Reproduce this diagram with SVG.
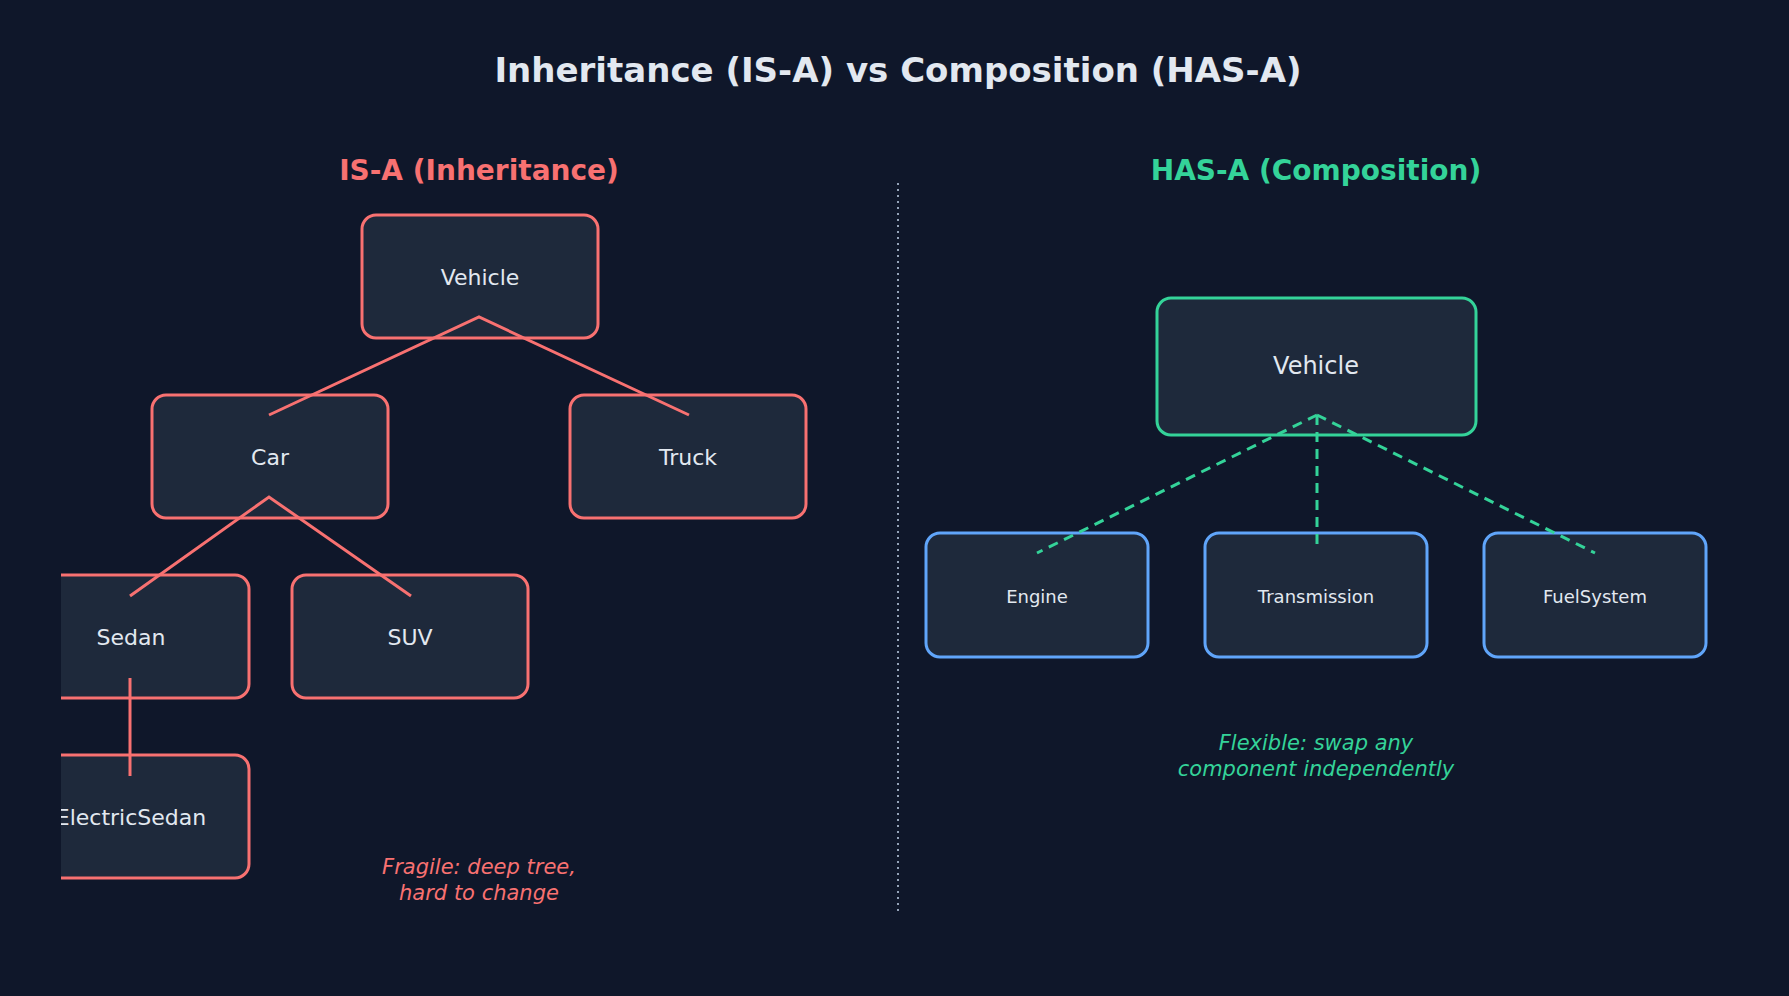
<svg xmlns="http://www.w3.org/2000/svg" width="1789" height="996" viewBox="0 0 1789 996">
<style>
text{font-family:"DejaVu Sans","Noto Sans",sans-serif;text-anchor:middle;dominant-baseline:central}
.n{fill:#1e293b;stroke-width:3}
.r{stroke:#f87171}.g{stroke:#34d399}.b{stroke:#60a5fa}
.t{fill:#e2e8f0;font-size:22px}
.s{fill:#e2e8f0;font-size:18px}
</style>
<defs><clipPath id="c"><rect x="61" y="0" width="1728" height="996"/></clipPath></defs>
<rect width="1789" height="996" fill="#0f172a"/>
<text x="898" y="70" fill="#e2e8f0" font-size="34" font-weight="bold">Inheritance (IS-A) vs Composition (HAS-A)</text>
<text x="479" y="170" fill="#f87171" font-size="28" font-weight="bold">IS-A  (Inheritance)</text>
<text x="1316" y="170" fill="#34d399" font-size="28" font-weight="bold">HAS-A  (Composition)</text>
<line x1="898" y1="183" x2="898" y2="913" stroke="#94a3b8" stroke-width="2" stroke-dasharray="2 4"/>
<g clip-path="url(#c)">
<g id="vehicle"><rect class="n r" x="362" y="215" width="236" height="123" rx="14"/><text class="t" x="480" y="277">Vehicle</text></g>
<g id="car"><rect class="n r" x="152" y="395" width="236" height="123" rx="14"/><text class="t" x="270" y="457">Car</text></g>
<g id="truck"><rect class="n r" x="570" y="395" width="236" height="123" rx="14"/><text class="t" x="688" y="457">Truck</text></g>
<g id="sedan"><rect class="n r" x="13" y="575" width="236" height="123" rx="14"/><text class="t" x="131" y="637">Sedan</text></g>
<g id="suv"><rect class="n r" x="292" y="575" width="236" height="123" rx="14"/><text class="t" x="410" y="637">SUV</text></g>
<g id="electricsedan"><rect class="n r" x="13" y="755" width="236" height="123" rx="14"/><text class="t" x="131" y="817">ElectricSedan</text></g>
</g>
<g id="vehicle2"><rect class="n g" x="1157" y="298" width="319" height="137" rx="14"/><text x="1316" y="366" fill="#e2e8f0" font-size="24">Vehicle</text></g>
<g id="engine"><rect class="n b" x="926" y="533" width="222" height="124" rx="14"/><text class="s" x="1037" y="596">Engine</text></g>
<g id="transmission"><rect class="n b" x="1205" y="533" width="222" height="124" rx="14"/><text class="s" x="1316" y="596">Transmission</text></g>
<g id="fuelsystem"><rect class="n b" x="1484" y="533" width="222" height="124" rx="14"/><text class="s" x="1595" y="596">FuelSystem</text></g>
<g id="connectors" fill="none" stroke-width="3">
<g stroke="#f87171" clip-path="url(#c)">
<polyline points="269,415 479,317 689,415"/>
<polyline points="130,596 269,497 411,596"/>
<line x1="130" y1="678" x2="130" y2="776"/>
</g>
<g stroke="#34d399" stroke-dasharray="10 7">
<line x1="1317" y1="415" x2="1037" y2="553"/>
<line x1="1317" y1="415" x2="1317" y2="547"/>
<line x1="1317" y1="415" x2="1595" y2="553"/>
</g>
</g>
<text x="479" y="867" fill="#f87171" font-size="21" font-style="italic">Fragile: deep tree,</text>
<text x="479" y="893" fill="#f87171" font-size="21" font-style="italic">hard to change</text>
<text x="1316" y="743" fill="#34d399" font-size="21" font-style="italic">Flexible: swap any</text>
<text x="1316" y="769" fill="#34d399" font-size="21" font-style="italic">component independently</text>
</svg>
